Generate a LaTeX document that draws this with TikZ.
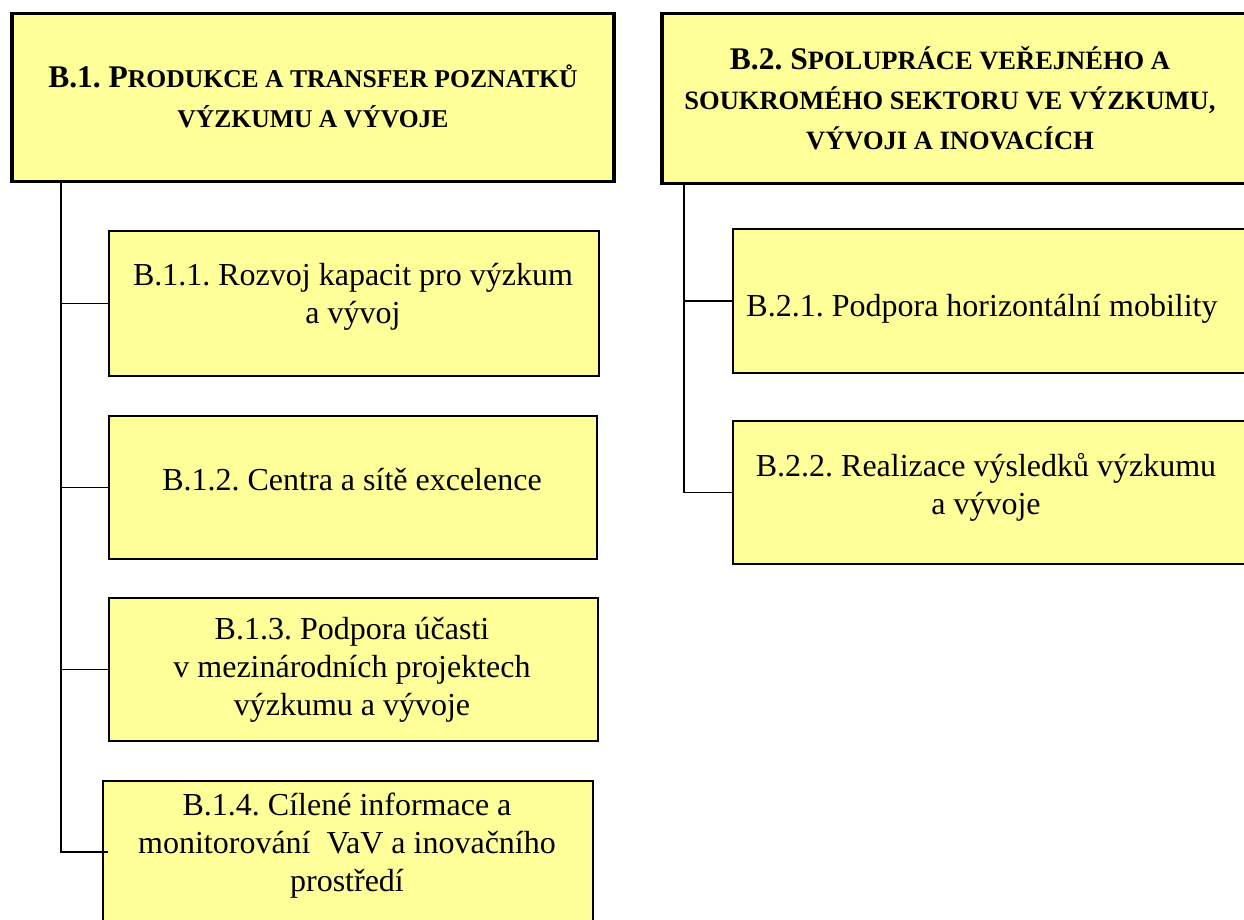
\documentclass[tikz,border=0pt]{standalone}
\usepackage{fontspec}
\setmainfont{Liberation Serif}
\definecolor{boxyellow}{HTML}{FFFF99}
\newcommand\hdsc[1]{{\fontsize{26.5}{40}\selectfont #1}}
\newcommand\hdsca[1]{{\fontsize{25.6}{38}\selectfont #1}}
\tikzset{
 hdr/.style={draw=black, line width=3.5pt, fill=boxyellow, anchor=north west, inner sep=0pt},
 sub/.style={draw=black, line width=2pt, fill=boxyellow, anchor=north west, inner sep=0pt},
 txt/.style={align=center, font=\fontsize{32}{38}\selectfont, inner sep=0pt},
 htxt/.style={align=center, font=\fontsize{31.5}{40}\selectfont\bfseries, inner sep=0pt},
 conn/.style={draw=black, line width=1.5pt}
}
\begin{document}
\frenchspacing
\begin{tikzpicture}[x=1pt,y=-1pt]
\useasboundingbox (0,0) rectangle (1244,920);
% headers
\node[hdr, minimum width=602pt, minimum height=168pt] (b1) at (10,12) {};
\node[htxt] (b1t) at (313,96) {B.1. P\hdsca{RODUKCE A TRANSFER POZNATKŮ}\\\hdsca{VÝZKUMU A VÝVOJE}};
\node[hdr, minimum width=600pt, minimum height=170pt] (b2) at (660,12) {};
\node[htxt] (b2t) at (950,98) {B.2. S\hdsc{POLUPRÁCE VEŘEJNÉHO A}\\\hdsc{SOUKROMÉHO SEKTORU VE VÝZKUMU,}\\\hdsc{VÝVOJI A INOVACÍCH}};
% bus coordinates
\coordinate (bus1) at (61,181);
\coordinate (bus2) at (684,182);
\coordinate (c14) at (108,852);
% B1 sub boxes
\node[sub, minimum width=490pt, minimum height=145pt] (b11) at (108,230) {};
\node[txt] (b11t) at (353,297) {B.1.1. Rozvoj kapacit pro výzkum\\a vývoj};
\node[sub, minimum width=488pt, minimum height=143pt] (b12) at (108,415) {};
\node[txt] (b12t) at (352,480) {B.1.2. Centra a sítě excelence};
\node[sub, minimum width=489pt, minimum height=143pt] (b13) at (108,597) {};
\node[txt] (b13t) at (352,670) {B.1.3. Podpora účasti\\v mezinárodních projektech\\výzkumu a vývoje};
\node[sub, minimum width=490pt, minimum height=160pt] (b14) at (102,780) {};
\node[txt] (b14t) at (347,846) {B.1.4. Cílené informace a\\monitorování\ \ VaV a inovačního\\prostředí};
% B2 sub boxes
\node[sub, minimum width=530pt, minimum height=144pt] (b21) at (732,228) {};
\node[txt] (b21t) at (982,309) {B.2.1. Podpora horizontální mobility};
\node[sub, minimum width=530pt, minimum height=143pt] (b22) at (732,420) {};
\node[txt] (b22t) at (986,487) {B.2.2. Realizace výsledků výzkumu\\a vývoje};
% connectors
\draw[conn] (bus1) |- (c14);
\draw[conn] (b11.west -| bus1) -- (b11.west);
\draw[conn] (b12.west -| bus1) -- (b12.west);
\draw[conn] (b13.west -| bus1) -- (b13.west);
\draw[conn] (bus2) |- (b22.west);
\draw[conn] (b21.west -| bus2) -- (b21.west);
\end{tikzpicture}
\end{document}
